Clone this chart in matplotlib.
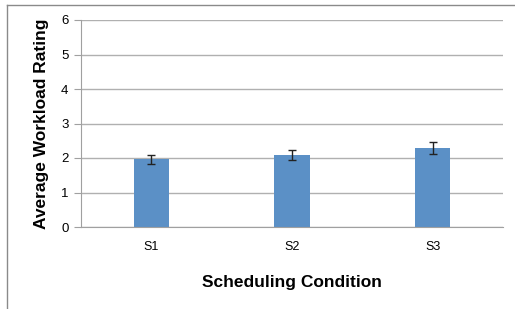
import matplotlib
matplotlib.use('Agg')
import matplotlib.pyplot as plt
from matplotlib.lines import Line2D

# data
conditions = ['S1', 'S2', 'S3']
workload = [1.96, 2.08, 2.29]
errors = [0.13, 0.14, 0.16]

plt.rcParams['font.family'] = ['Liberation Sans', 'DejaVu Sans']

fig = plt.figure(figsize=(5.15, 3.09), dpi=100)
ax = fig.add_axes([81/515, 1 - 227/309, 422/515, 207/309])

x = range(len(conditions))
ax.bar(x, workload, width=0.25, color='#5b90c6', zorder=2)
ax.errorbar(x, workload, yerr=errors, fmt='none', ecolor='#222222',
            elinewidth=1, capsize=3, capthick=1, zorder=3)

ax.set_xlim(-0.5, len(conditions) - 0.5)
ax.set_ylim(0, 6)
ax.set_yticks(range(7))
ax.set_xticks(list(x))
ax.set_xticklabels(conditions, fontsize=9)
ax.tick_params(axis='y', labelsize=9.5, length=5, color='#a0a0a0', pad=4)
ax.tick_params(axis='x', length=0, pad=10)
ax.grid(axis='y', color='#b0b0b0', linewidth=1, zorder=0)

for side in ['top', 'right']:
    ax.spines[side].set_visible(False)
ax.spines['left'].set_color('#a0a0a0')
ax.spines['bottom'].set_color('#a0a0a0')

ax.set_ylabel('Average Workload Rating', fontsize=12.5, fontweight='bold')
ax.yaxis.set_label_coords(-0.077, 0.5)
ax.set_xlabel('Scheduling Condition', fontsize=12.5, fontweight='bold', labelpad=16)

# outer frame (left and top edges visible)
fig.add_artist(Line2D([7/515, 7/515], [0, 1 - 5/309], color='#8a8a8a', lw=1))
fig.add_artist(Line2D([7/515, 1], [1 - 5/309, 1 - 5/309], color='#8a8a8a', lw=1))

fig.savefig('out.png', dpi=100)
